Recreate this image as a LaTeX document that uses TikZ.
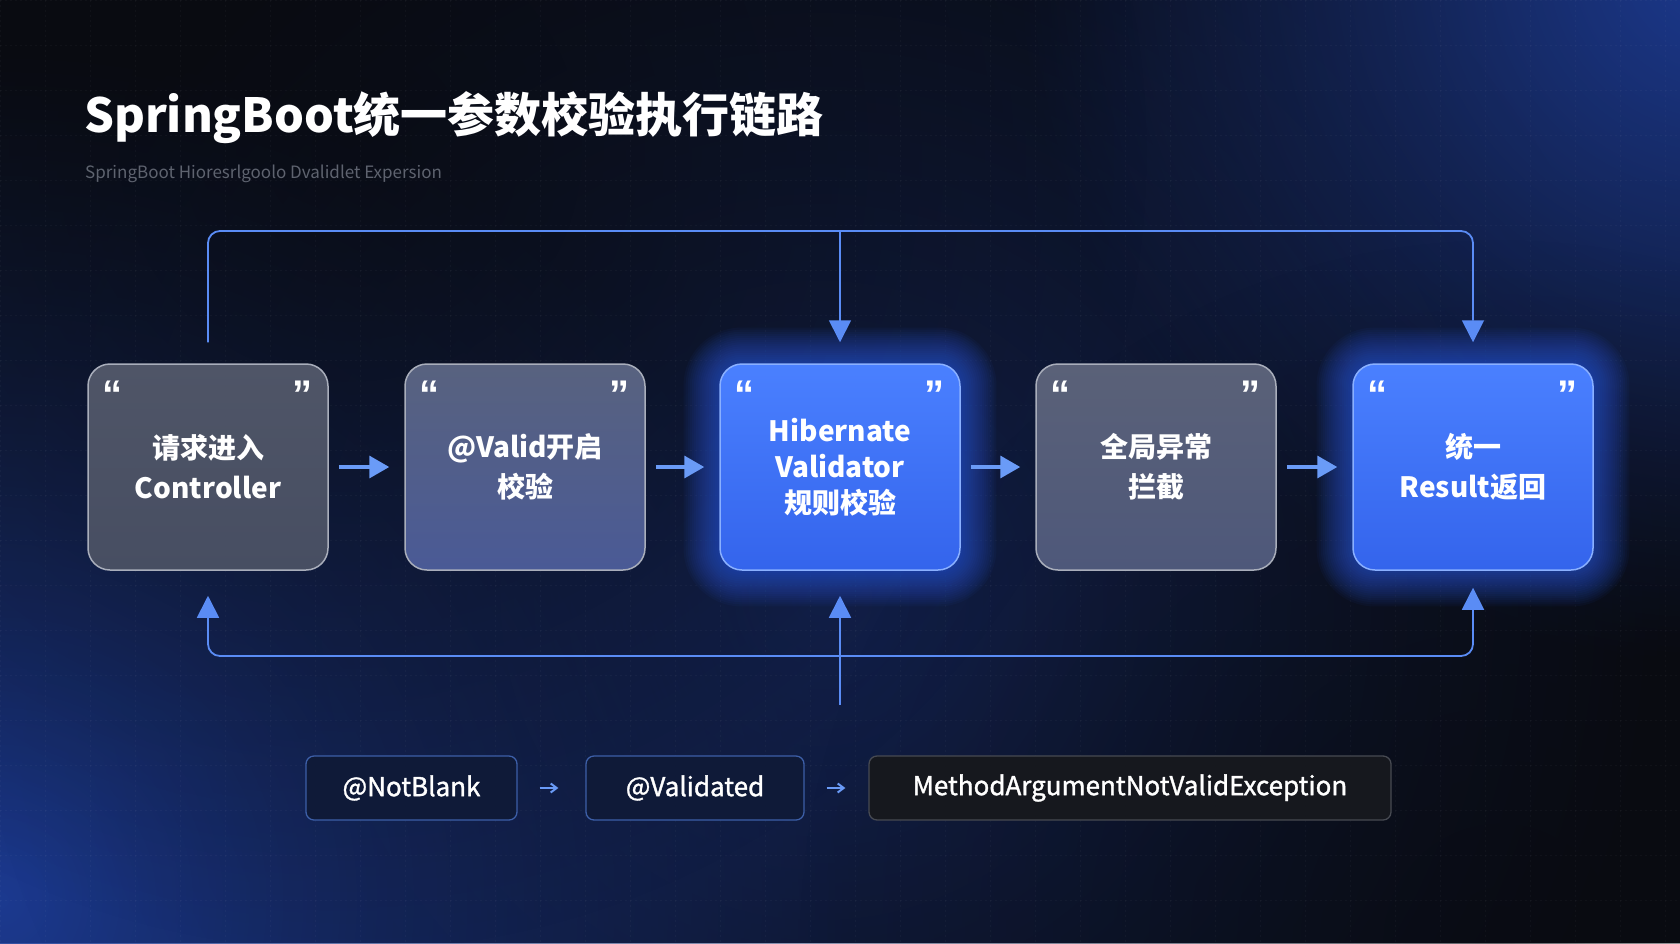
\documentclass[tikz,border=0pt]{standalone}
\usepackage{fontspec}
\setmainfont{Noto Sans CJK SC}
\newfontfamily\qfont{Liberation Sans}
\newfontface\tagface{Noto Sans CJK SC}[RawFeature={embolden=1.3}]
\usetikzlibrary{arrows.meta,fadings,calc,backgrounds}
\tikzfading[name=softglow, inner color=transparent!0, outer color=transparent!100]
\definecolor{bg}{HTML}{090B11}
\definecolor{glowA}{HTML}{1D3C96}
\definecolor{glowC}{HTML}{15275E}
\definecolor{glowB}{HTML}{3063F5}
\definecolor{conn}{HTML}{5A8CF5}
\definecolor{harr}{HTML}{6A9BF7}
\definecolor{grayedge}{HTML}{A9AEBB}
\definecolor{blueedge}{HTML}{8AB0FF}
\definecolor{subt}{HTML}{5E636F}
\definecolor{bluetop}{HTML}{4A80FF}
\definecolor{bluebot}{HTML}{3464EC}
\definecolor{g1t}{HTML}{4F5567}
\definecolor{g1b}{HTML}{474E62}
\definecolor{g2t}{HTML}{58627F}
\definecolor{g2b}{HTML}{4A5A96}
\definecolor{g4t}{HTML}{5A6178}
\definecolor{g4b}{HTML}{4E587A}
\definecolor{tagfill}{HTML}{0F1A38}
\definecolor{tagedge}{HTML}{3D5FA8}
\definecolor{exfill}{HTML}{16181E}
\definecolor{exedge}{HTML}{474A52}
\tikzset{
  box/.style={rectangle, minimum width=240pt, minimum height=206pt, rounded corners=22pt,
    draw=grayedge, line width=1.5pt, align=center, text=white, font=\bfseries\fontsize{28}{40}\selectfont},
  bluebox/.style={box, draw=blueedge, top color=bluetop, bottom color=bluebot},
  quote/.style={text=white, font=\qfont\bfseries\fontsize{40}{40}\selectfont, inner sep=0pt},
  conn/.style={draw=conn, line width=1.8pt, rounded corners=12pt},
  tip/.style={-{Triangle[width=22pt,length=22pt]}},
  harrow/.style={draw=harr, line width=3.5pt, -{Triangle[width=22pt,length=20pt]}},
  sarrow/.style={draw=harr, line width=2pt, -{Straight Barb[width=9pt,length=6pt]}},
  tag/.style={rectangle, rounded corners=8pt, minimum height=64pt, line width=1.3pt,
    text=white, font=\tagface\fontsize{26}{30}\selectfont},
}
\begin{document}
\begin{tikzpicture}[x=1pt,y=-1pt]
\useasboundingbox (0,0) rectangle (1680,943);
\begin{scope}[on background layer]
  \fill[bg] (0,0) rectangle (1680,943);
  \begin{scope}
    \clip (0,0) rectangle (1680,943);
    \fill[glowA, path fading=softglow, fill opacity=0.95] (0,900) circle (850);
    \fill[glowA, path fading=softglow, fill opacity=0.95] (1720,-40) circle (700);
    \fill[glowC, path fading=softglow, fill opacity=0.8] (820,600) circle (850);
    \fill[bg, path fading=softglow, fill opacity=0.7] (350,150) circle (800);
    \fill[bg, path fading=softglow, fill opacity=0.6] (1500,940) circle (700);
    \foreach \x in {0,45,...,1680}
      \draw[white, opacity=0.03, line width=0.6pt, dash pattern=on 2pt off 3pt] (\x,0) -- (\x,943);
    \foreach \y in {0,45,...,943}
      \draw[white, opacity=0.03, line width=0.6pt, dash pattern=on 2pt off 3pt] (0,\y) -- (1680,\y);
  \end{scope}
\end{scope}

% title
\node[anchor=west, text=white, font=\bfseries\fontsize{47}{55}\selectfont, inner sep=0pt] (title) at (84,118) {SpringBoot统一参数校验执行链路};
\node[anchor=west, text=subt, font=\fontsize{17}{19}\selectfont, inner sep=0pt] (subtitle) at (85,174) {SpringBoot Hioresrlgoolo Dvalidlet Expersion};

% boxes
\node[box, top color=g1t, bottom color=g1b] (b1) at (208,467) {请求进入\\Controller};
\node[box, top color=g2t, bottom color=g2b] (b2) at (525,467) {@Valid开启\\校验};
\node[bluebox, font=\bfseries\fontsize{28}{36}\selectfont] (b3) at (840,467) {Hibernate\\Validator\\规则校验};
\node[box, top color=g4t, bottom color=g4b] (b4) at (1156,467) {全局异常\\拦截};
\node[bluebox] (b5) at (1473,467) {统一\\Result返回};

% glows behind blue boxes
\begin{scope}[on background layer]
  \foreach \b in {b3,b5}{
    \foreach \i in {1,...,17}{
      \fill[glowB, opacity=0.045, rounded corners={22pt+\i*2.1pt}]
        ($(\b.north west)+(-\i*2.1,-\i*2.1)$) rectangle ($(\b.south east)+(\i*2.1,\i*2.1)$);
    }
  }
\end{scope}

% quote marks
\foreach \b in {b1,b2,b3,b4,b5}{
  \node[quote] (\b ql) at ($(\b.north west)+(25,31)$) {“};
  \node[quote] (\b qr) at ($(\b.north east)+(-26,31)$) {”};
}

% horizontal arrows
\draw[harrow] ([xshift=10pt]b1.east) -- ([xshift=-15pt]b2.west);
\draw[harrow] ([xshift=10pt]b2.east) -- ([xshift=-15pt]b3.west);
\draw[harrow] ([xshift=10pt]b3.east) -- ([xshift=-15pt]b4.west);
\draw[harrow] ([xshift=10pt]b4.east) -- ([xshift=-15pt]b5.west);

% top connector
\coordinate (topy) at (0,231);
\coordinate (boty) at (0,656);
\draw[conn, tip] ($(b1.north)+(0,-21)$) -- (b1.north |- topy) -- (b5.north |- topy) -- ($(b5.north)+(0,-21)$);
\draw[conn, tip] (b3.north |- topy) -- ($(b3.north)+(0,-21)$);

% bottom connector
\draw[conn, {Triangle[width=22pt,length=22pt]}-{Triangle[width=22pt,length=22pt]}]
  ($(b1.south)+(0,25)$) -- (b1.south |- boty) -- (b5.south |- boty) -- ($(b5.south)+(0,17)$);
\coordinate (b3in) at ($(b3.south)+(0,134)$);
\draw[conn, tip] (b3in) -- ($(b3.south)+(0,25)$);

% tags
\node[tag, fill=tagfill, draw=tagedge, minimum width=211pt] (t1) at (411.5,788) {@NotBlank};
\node[tag, fill=tagfill, draw=tagedge, minimum width=218pt] (t2) at (695,788) {@Validated};
\node[tag, fill=exfill, draw=exedge, minimum width=522pt] (t3) at (1130,788) {MethodArgumentNotValidException};
\draw[sarrow] ([xshift=22pt]t1.east) -- ([xshift=-27pt]t2.west);
\draw[sarrow] ([xshift=22pt]t2.east) -- ([xshift=-23pt]t3.west);
\end{tikzpicture}
\end{document}
